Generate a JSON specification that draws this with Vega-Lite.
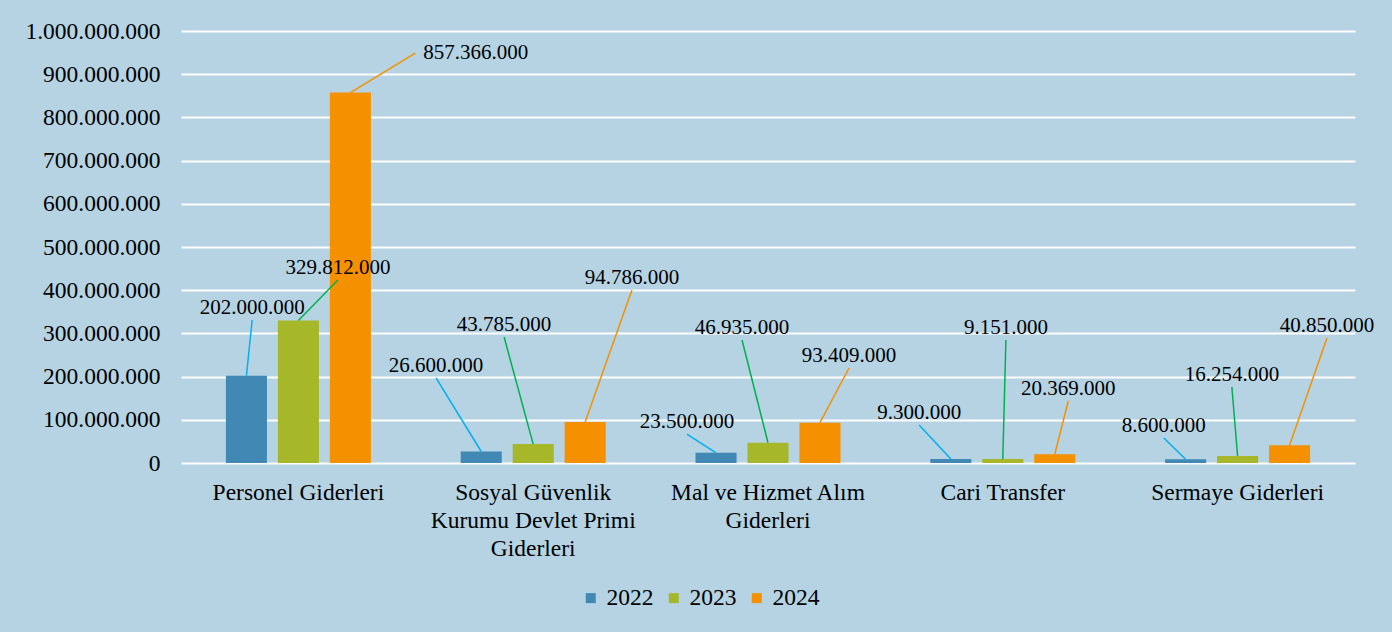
{
  "$schema": "https://vega.github.io/schema/vega-lite/v6.json",
  "width": 1174,
  "height": 432,
  "autosize": {"type": "none"},
  "padding": {"left": 181, "top": 31, "right": 37, "bottom": 169},
  "background": "#b5d3e3",
  "data": {
    "values": [
      {"category": "Personel Giderleri", "year": 2022, "value": 202000000, "calloutYear": 2022.11, "calloutValue": 331000000},
      {"category": "Personel Giderleri", "year": 2023, "value": 329812000, "calloutYear": 2023.76, "calloutValue": 423600000},
      {"category": "Personel Giderleri", "year": 2024, "value": 857366000, "calloutYear": 2025.25, "calloutValue": 949000000},
      {"category": "Sosyal Güvenlik Kurumu Devlet Primi Giderleri", "year": 2022, "value": 26600000, "calloutYear": 2021.13, "calloutValue": 196800000},
      {"category": "Sosyal Güvenlik Kurumu Devlet Primi Giderleri", "year": 2023, "value": 43785000, "calloutYear": 2022.44, "calloutValue": 291700000},
      {"category": "Sosyal Güvenlik Kurumu Devlet Primi Giderleri", "year": 2024, "value": 94786000, "calloutYear": 2024.9, "calloutValue": 400500000},
      {"category": "Mal ve Hizmet Alım Giderleri", "year": 2022, "value": 23500000, "calloutYear": 2021.44, "calloutValue": 67100000},
      {"category": "Mal ve Hizmet Alım Giderleri", "year": 2023, "value": 46935000, "calloutYear": 2022.5, "calloutValue": 284700000},
      {"category": "Mal ve Hizmet Alım Giderleri", "year": 2024, "value": 93409000, "calloutYear": 2024.56, "calloutValue": 219900000},
      {"category": "Cari Transfer", "year": 2022, "value": 9300000, "calloutYear": 2021.39, "calloutValue": 88000000},
      {"category": "Cari Transfer", "year": 2023, "value": 9151000, "calloutYear": 2023.06, "calloutValue": 284700000},
      {"category": "Cari Transfer", "year": 2024, "value": 20369000, "calloutYear": 2024.26, "calloutValue": 143500000},
      {"category": "Sermaye Giderleri", "year": 2022, "value": 8600000, "calloutYear": 2021.58, "calloutValue": 57900000},
      {"category": "Sermaye Giderleri", "year": 2023, "value": 16254000, "calloutYear": 2022.89, "calloutValue": 175900000},
      {"category": "Sermaye Giderleri", "year": 2024, "value": 40850000, "calloutYear": 2024.72, "calloutValue": 289400000}
    ]
  },
  "resolve": {"scale": {"xOffset": "independent"}},
  "layer": [
    {
      "mark": {"type": "bar"},
      "encoding": {
        "x": {
          "field": "category", "type": "nominal", "sort": null,
          "scale": {"paddingInner": 0.336, "paddingOuter": 0.168},
          "axis": {
            "title": null, "domain": false, "ticks": false, "grid": false,
            "labelAngle": 0, "labelPadding": 17, "labelFontSize": 23.5,
            "labelFont": "Liberation Serif", "labelColor": "#000000", "labelLimit": 0,
            "labelLineHeight": 28, "labelBaseline": "top",
            "labelExpr": "datum.value == 'Sosyal Güvenlik Kurumu Devlet Primi Giderleri' ? ['Sosyal Güvenlik', 'Kurumu Devlet Primi', 'Giderleri'] : datum.value == 'Mal ve Hizmet Alım Giderleri' ? ['Mal ve Hizmet Alım', 'Giderleri'] : datum.value"
          }
        },
        "xOffset": {
          "field": "year", "type": "nominal",
          "scale": {"paddingInner": 0.21, "paddingOuter": 0.105}
        },
        "y": {
          "field": "value", "type": "quantitative",
          "scale": {"domain": [0, 1000000000], "nice": false},
          "axis": {
            "title": null, "domain": false, "ticks": false,
            "values": [0, 100000000, 200000000, 300000000, 400000000, 500000000, 600000000, 700000000, 800000000, 900000000, 1000000000],
            "format": ",d", "labelFontSize": 23.5, "labelPadding": 21,
            "labelFont": "Liberation Serif", "labelColor": "#000000",
            "grid": true, "gridColor": "#ffffff", "gridWidth": 2, "gridOpacity": 1
          }
        },
        "color": {
          "field": "year", "type": "nominal",
          "scale": {"domain": [2022, 2023, 2024], "range": ["#4189b4", "#a6b82a", "#f59100"]},
          "legend": {
            "title": null, "orient": "none", "direction": "horizontal",
            "legendX": 398, "legendY": 555,
            "symbolType": "square", "symbolSize": 100, "symbolStrokeWidth": 0,
            "labelFont": "Liberation Serif", "labelColor": "#000000",
            "labelFontSize": 23.5, "labelOffset": 4, "columnPadding": 8
          }
        }
      }
    },
    {
      "transform": [
        {"fold": ["year", "calloutYear"], "as": ["xk", "xv"]},
        {"fold": ["value", "calloutValue"], "as": ["yk", "yv"]},
        {"filter": "(datum.xk == 'year' && datum.yk == 'value') || (datum.xk == 'calloutYear' && datum.yk == 'calloutValue')"}
      ],
      "mark": {"type": "line", "strokeWidth": 1.5},
      "encoding": {
        "x": {"field": "category", "type": "nominal", "sort": null},
        "xOffset": {
          "field": "xv", "type": "quantitative",
          "scale": {"domain": [2021.5, 2024.5], "range": [0, 155.9], "zero": false, "nice": false}
        },
        "y": {"field": "yv", "type": "quantitative"},
        "detail": {"field": "category", "type": "nominal"},
        "stroke": {
          "field": "year", "type": "nominal",
          "scale": {"domain": [2022, 2023, 2024], "range": ["#00b0f0", "#00b050", "#f59100"]},
          "legend": null
        }
      }
    },
    {
      "transform": [{"filter": "datum.value != 857366000"}],
      "mark": {"type": "text", "fontSize": 21, "font": "Liberation Serif", "baseline": "alphabetic", "dy": -6, "color": "#000000"},
      "encoding": {
        "x": {"field": "category", "type": "nominal", "sort": null},
        "xOffset": {
          "field": "calloutYear", "type": "quantitative",
          "scale": {"domain": [2021.5, 2024.5], "range": [0, 155.9], "zero": false, "nice": false}
        },
        "y": {"field": "calloutValue", "type": "quantitative"},
        "text": {"field": "value", "type": "quantitative", "format": ",d"}
      }
    },
    {
      "transform": [{"filter": "datum.value == 857366000"}],
      "mark": {"type": "text", "fontSize": 21, "font": "Liberation Serif", "align": "left", "baseline": "middle", "dx": 8, "color": "#000000"},
      "encoding": {
        "x": {"field": "category", "type": "nominal", "sort": null},
        "xOffset": {
          "field": "calloutYear", "type": "quantitative",
          "scale": {"domain": [2021.5, 2024.5], "range": [0, 155.9], "zero": false, "nice": false}
        },
        "y": {"field": "calloutValue", "type": "quantitative"},
        "text": {"field": "value", "type": "quantitative", "format": ",d"}
      }
    }
  ],
  "config": {
    "locale": {"number": {"decimal": ",", "thousands": ".", "grouping": [3], "currency": ["", " TL"]}},
    "font": "Liberation Serif",
    "view": {"stroke": null},
    "axis": {"labelFont": "Liberation Serif", "labelColor": "#000000"},
    "legend": {"labelFont": "Liberation Serif", "labelColor": "#000000"},
    "text": {"font": "Liberation Serif"}
  }
}
